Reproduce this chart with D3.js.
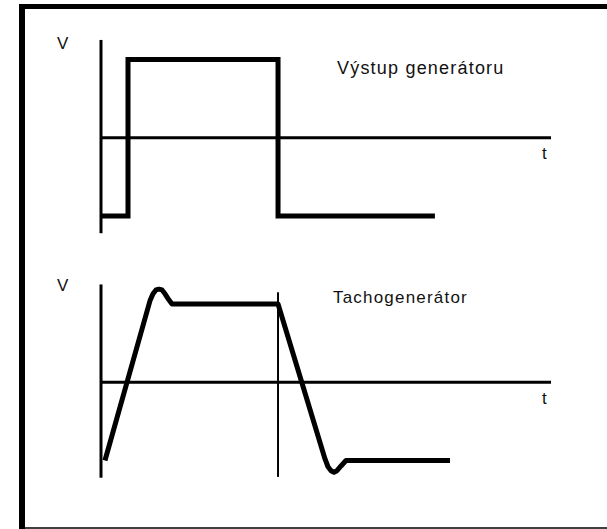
<!DOCTYPE html>
<html>
<head>
<meta charset="utf-8">
<script src="https://cdn.jsdelivr.net/npm/d3@7"></script>
<style>
  html, body { margin: 0; padding: 0; background: #fff; }
  svg { display: block; }
  text { font-family: "Liberation Sans", Arial, sans-serif; fill: #111; }
</style>
</head>
<body>
<svg id="chart" width="607" height="529"></svg>
<script>
// ---- data (time units t, voltage units V) ----
const panelTitles = ["Výstup generátoru", "Tachogenerátor"];
const axisLabelY = "V";
const axisLabelX = "t";

// generator output (square pulse)
const squareT = [0, 3, 3, 19.67, 19.67, 37.1];
const squareV = [-1, -1, 1, 1, -1, -1];

// tachogenerator response
const tachoT = [0.44, 5.44, 5.78, 6.11, 6.44, 6.78, 7.11, 7.56, 7.89, 19.67, 24.89, 25.22, 25.56, 25.89, 26.22, 26.67, 27.22, 38.78];
const tachoV = [-1, 1.04, 1.13, 1.18, 1.19, 1.18, 1.13, 1.05, 1.0, 1.0, -0.98, -1.08, -1.13, -1.15, -1.13, -1.07, -1, -1];

// axis extents
const timeExtent = [0, 50];
const vAxisExtent = [-1.22, 1.25];
const markerT = 19.67; // vertical marker in lower panel
const markerV = [-1.21, 1.15];

// ---- drawing ----
const svg = d3.select("#chart");

// frame
svg.append("line").attr("x1", 22).attr("x2", 22).attr("y1", 4).attr("y2", 529)
  .attr("stroke", "#000").attr("stroke-width", 6);
svg.append("line").attr("x1", 19).attr("x2", 607).attr("y1", 6.5).attr("y2", 6.5)
  .attr("stroke", "#000").attr("stroke-width", 5);
svg.append("line").attr("x1", 22).attr("x2", 607).attr("y1", 528).attr("y2", 528)
  .attr("stroke", "#000").attr("stroke-width", 1.5);

const x = d3.scaleLinear().domain(timeExtent).range([101, 551]);

const panels = [
  { yRange: [216, 59.5], T: squareT, V: squareV, title: panelTitles[0], titleSize: 18, titlePos: [337, 74], vLab: [57, 49], tLab: [542, 159], marker: false },
  { yRange: [460.5, 304], T: tachoT, V: tachoV, title: panelTitles[1], titleSize: 17, titlePos: [333, 303], vLab: [57, 291], tLab: [542, 404], marker: true }
];

panels.forEach(p => {
  const y = d3.scaleLinear().domain([-1, 1]).range(p.yRange);
  const g = svg.append("g");

  // vertical axis
  g.append("line")
    .attr("x1", x(0)).attr("x2", x(0))
    .attr("y1", y(vAxisExtent[1])).attr("y2", y(vAxisExtent[0]))
    .attr("stroke", "#000").attr("stroke-width", 3);
  // horizontal axis
  g.append("line")
    .attr("x1", x(0)).attr("x2", x(timeExtent[1]))
    .attr("y1", y(0)).attr("y2", y(0))
    .attr("stroke", "#000").attr("stroke-width", 3);

  if (p.marker) {
    g.append("line")
      .attr("x1", x(markerT)).attr("x2", x(markerT))
      .attr("y1", y(markerV[1])).attr("y2", y(markerV[0]))
      .attr("stroke", "#000").attr("stroke-width", 2);
  }

  const pts = p.T.map((t, i) => [t, p.V[i]]);
  const line = d3.line().x(d => x(d[0])).y(d => y(d[1])).curve(d3.curveLinear);
  g.append("path").attr("d", line(pts))
    .attr("fill", "none").attr("stroke", "#000").attr("stroke-width", 5)
    .attr("stroke-linejoin", p.marker ? "round" : "miter");

  g.append("text").attr("x", p.vLab[0]).attr("y", p.vLab[1])
    .attr("font-size", 17).text(axisLabelY);
  g.append("text").attr("x", p.tLab[0]).attr("y", p.tLab[1])
    .attr("font-size", 17).text(axisLabelX);
  g.append("text").attr("x", p.titlePos[0]).attr("y", p.titlePos[1])
    .attr("font-size", p.titleSize).attr("letter-spacing", 1.2).text(p.title);
});
</script>
</body>
</html>
